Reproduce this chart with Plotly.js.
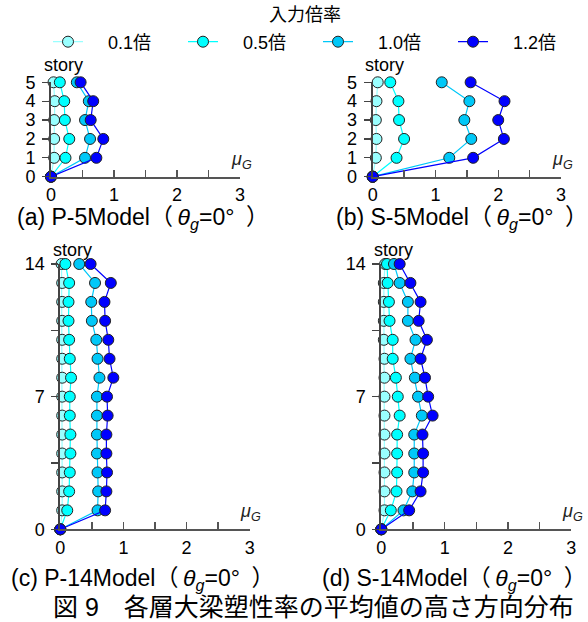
<!DOCTYPE html>
<html>
<head>
<meta charset="utf-8">
<script src="https://cdn.plot.ly/plotly-3.0.1.min.js"></script>
<style>html,body{margin:0;padding:0;background:#fff;}#chart{width:588px;height:622px;}</style>
</head>
<body>
<div id="chart"></div>
<script>
// ---- data ----
const seriesNames = ["0.1倍", "0.5倍", "1.0倍", "1.2倍"];
const stories5 = [0, 1, 2, 3, 4, 5];
const stories14 = [0, 1, 2, 3, 4, 5, 6, 7, 8, 9, 10, 11, 12, 13, 14];

// (a) P-5Model
const p5_01 = [0, 0.05, 0.05, 0.05, 0.06, 0.04];
const p5_05 = [0, 0.23, 0.29, 0.22, 0.21, 0.14];
const p5_10 = [0, 0.54, 0.62, 0.54, 0.60, 0.41];
const p5_12 = [0, 0.72, 0.83, 0.63, 0.67, 0.47];

// (b) S-5Model
const s5_01 = [0, 0.05, 0.06, 0.05, 0.06, 0.08];
const s5_05 = [0, 0.38, 0.50, 0.42, 0.41, 0.28];
const s5_10 = [0, 1.22, 1.57, 1.46, 1.54, 1.10];
const s5_12 = [0, 1.60, 2.09, 2.00, 2.10, 1.56];

// (c) P-14Model
const p14_01 = [0, 0.03, 0.03, 0.03, 0.03, 0.03, 0.03, 0.03, 0.03, 0.03, 0.03, 0.03, 0.03, 0.03, 0.02];
const p14_05 = [0, 0.11, 0.14, 0.15, 0.16, 0.16, 0.15, 0.15, 0.17, 0.15, 0.14, 0.13, 0.13, 0.14, 0.08];
const p14_10 = [0, 0.59, 0.60, 0.59, 0.58, 0.58, 0.58, 0.58, 0.62, 0.59, 0.57, 0.50, 0.49, 0.55, 0.30];
const p14_12 = [0, 0.71, 0.73, 0.74, 0.73, 0.73, 0.75, 0.74, 0.84, 0.78, 0.76, 0.71, 0.70, 0.80, 0.48];

// (d) S-14Model
const s14_01 = [0, 0.05, 0.05, 0.05, 0.05, 0.05, 0.05, 0.05, 0.05, 0.05, 0.04, 0.04, 0.04, 0.04, 0.06];
const s14_05 = [0, 0.15, 0.24, 0.25, 0.25, 0.25, 0.29, 0.26, 0.23, 0.18, 0.18, 0.13, 0.12, 0.10, 0.09];
const s14_10 = [0, 0.35, 0.49, 0.52, 0.52, 0.52, 0.64, 0.58, 0.53, 0.46, 0.54, 0.42, 0.42, 0.29, 0.20];
const s14_12 = [0, 0.44, 0.62, 0.66, 0.66, 0.65, 0.81, 0.74, 0.69, 0.62, 0.72, 0.59, 0.62, 0.46, 0.29];

const yTicks5 = [0, 1, 2, 3, 4, 5];
const yTicks14 = [0, 7, 14];
const xTicks = [0, 1, 2, 3];
const captions = ["(a) P-5Model", "(b) S-5Model", "(c) P-14Model", "(d) S-14Model"];
const figCaption = "図 9　各層大梁塑性率の平均値の高さ方向分布";

// ---- styling ----
const colors = ["#99ffff", "#00ffff", "#00c8f8", "#0000ff"];
const FONT = "'Liberation Sans', Arial, 'Noto Sans CJK JP', sans-serif";
const W = 588, H = 622;
const px = v => v / W;
const py = v => 1 - v / H;

const panels = [
  {xs: [p5_01, p5_05, p5_10, p5_12], ys: stories5, xd: [51, 240], yd: [176.7, 82.3], yt: yTicks5, ymax: 5, minor: null},
  {xs: [s5_01, s5_05, s5_10, s5_12], ys: stories5, xd: [372.7, 561], yd: [176.7, 82.3], yt: yTicks5, ymax: 5, minor: null},
  {xs: [p14_01, p14_05, p14_10, p14_12], ys: stories14, xd: [60.3, 249.7], yd: [529.3, 264], yt: yTicks14, ymax: 14, minor: 3.5},
  {xs: [s14_01, s14_05, s14_10, s14_12], ys: stories14, xd: [381.3, 571.3], yd: [529.3, 264], yt: yTicks14, ymax: 14, minor: 3.5}
];

const traces = [];
const layout = {
  width: W, height: H,
  margin: {l: 0, r: 0, t: 0, b: 0},
  paper_bgcolor: "#fff", plot_bgcolor: "rgba(0,0,0,0)",
  font: {family: FONT, size: 17, color: "#000"},
  showlegend: true,
  legend: {
    orientation: "h", x: px(59), xanchor: "left", y: py(42), yanchor: "middle",
    font: {family: FONT, size: 18, color: "#000"},
    bgcolor: "rgba(0,0,0,0)", borderwidth: 0,
    entrywidth: 90, entrywidthmode: "pixels", traceorder: "normal"
  },
  annotations: [],
};

panels.forEach((p, i) => {
  const n = i === 0 ? "" : String(i + 1);
  const xa = "x" + n, ya = "y" + n;
  p.xs.forEach((xv, k) => {
    traces.push({
      type: "scatter", mode: "lines+markers",
      x: xv, y: p.ys, xaxis: xa, yaxis: ya,
      name: "\u00a0\u00a0\u00a0\u00a0" + seriesNames[k],
      legendgroup: seriesNames[k],
      showlegend: i === 0,
      cliponaxis: false,
      line: {color: colors[k], width: 1.2},
      marker: {size: 11, color: colors[k], line: {color: "#222", width: 1}}
    });
  });
  layout["xaxis" + n] = {
    domain: [px(p.xd[0]), px(p.xd[1])], anchor: ya, range: [0, 3],
    tickmode: "array", tickvals: xTicks, ticktext: xTicks.map(String),
    ticks: "inside", ticklen: 7, tickwidth: 1.3, tickcolor: "#555",
    minor: {tickmode: "linear", tick0: 0, dtick: 0.5, ticks: "inside", ticklen: 7, tickwidth: 1.3, tickcolor: "#555"},
    showline: true, linecolor: "#555", linewidth: 2,
    showgrid: false, zeroline: false, ticklabelstandoff: 1,
    tickfont: {size: 18}, fixedrange: true
  };
  const yax = {
    domain: [py(p.yd[0]), py(p.yd[1])], anchor: xa, range: [0, p.ymax],
    tickmode: "array", tickvals: p.yt, ticktext: p.yt.map(String),
    ticks: "outside", ticklen: 7, tickwidth: 1.3, tickcolor: "#444",
    showline: true, linecolor: "#444", linewidth: 2,
    showgrid: false, zeroline: false, ticklabelstandoff: 3,
    tickfont: {size: 18}, fixedrange: true
  };
  if (p.minor) yax.minor = {tickmode: "linear", tick0: 0, dtick: p.minor, ticks: "outside", ticklen: 7, tickwidth: 1.3, tickcolor: "#444"};
  layout["yaxis" + n] = yax;

  // "story" label
  layout.annotations.push({
    xref: xa, x: 0, xanchor: "center", xshift: 12,
    yref: ya + " domain", y: 1, yanchor: "bottom", yshift: i < 2 ? 5 : 2,
    text: "story", showarrow: false, font: {size: 18}
  });
  // mu_G label
  layout.annotations.push({
    xref: xa, x: 3, xanchor: "center", xshift: 1,
    yref: ya, y: 0, yanchor: "bottom", yshift: 3,
    text: "<i>μ</i><sub><i>G</i></sub>", showarrow: false, font: {size: 18, color: "#222"}
  });
});

// captions
const capPos = [[143, 219], [462, 219], [142, 579], [454, 579]];
captions.forEach((c, i) => {
  layout.annotations.push({
    xref: "paper", yref: "paper", x: px(capPos[i][0]), y: py(capPos[i][1]),
    xanchor: "center", yanchor: "middle", showarrow: false,
    text: c + "（\u2009<i>θ</i><sub><i>g</i></sub>=0°\u2002）", font: {size: 23}
  });
});
layout.annotations.push({
  xref: "paper", yref: "paper", x: px(313), y: py(607), xanchor: "center", yanchor: "middle",
  showarrow: false, text: figCaption, font: {size: 25}
});
// legend title
layout.annotations.push({
  xref: "paper", yref: "paper", x: px(305), y: py(15), xanchor: "center", yanchor: "middle",
  showarrow: false, text: "入力倍率", font: {size: 18}
});

Plotly.newPlot("chart", traces, layout, {staticPlot: true, displayModeBar: false});
</script>
</body>
</html>
